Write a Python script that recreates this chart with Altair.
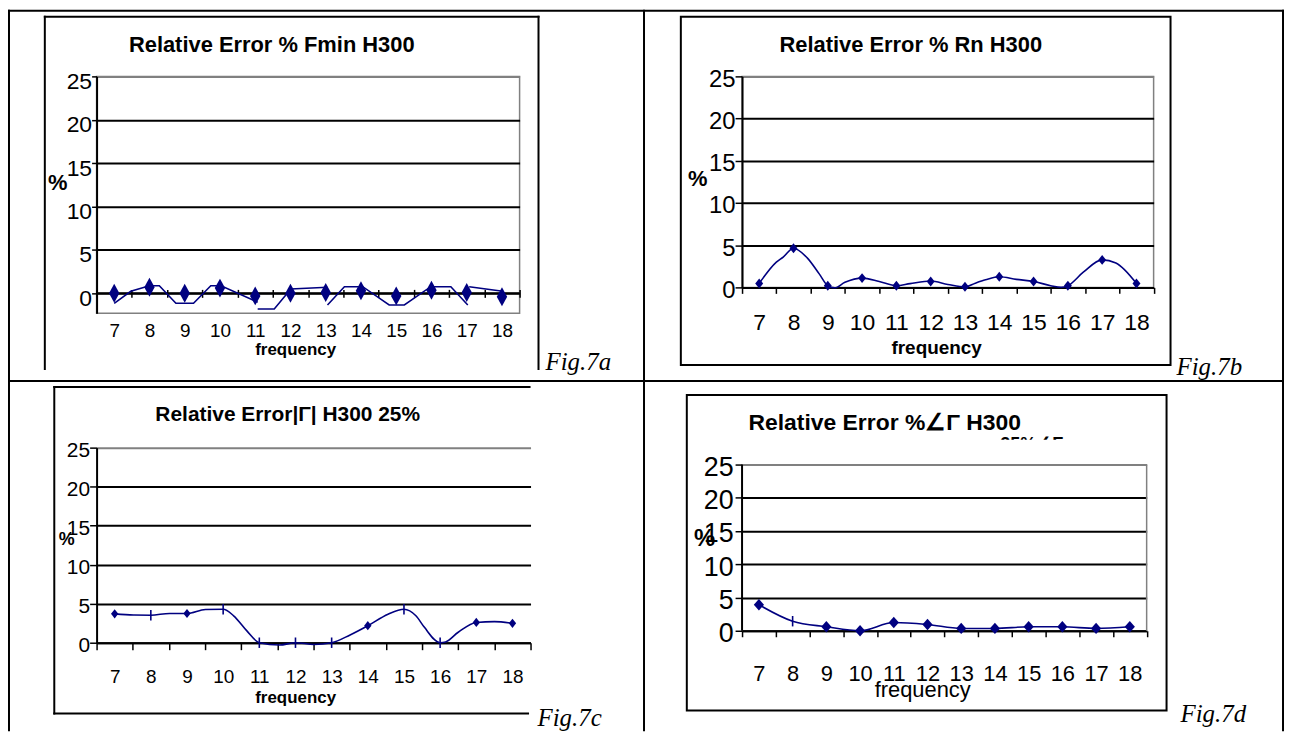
import altair as alt
import pandas as pd

SANS = "Liberation Sans"
SERIF = "Liberation Serif"
NAVY = "#000080"
GREY = "#808080"

FREQ = [7, 8, 9, 10, 11, 12, 13, 14, 15, 16, 17, 18]
HALF = [6.5, 7.5, 8.5, 9.5, 10.5, 11.5, 12.5, 13.5, 14.5, 15.5, 16.5, 17.5, 18.5]
Y_TICKS = [0, 5, 10, 15, 20, 25]

# ---- Fig.7a  Relative Error % Fmin H300
A_MARK = [0.0, 0.7, 0.0, 0.6, -0.3, 0.0, 0.1, 0.3, -0.3, 0.35, 0.1, -0.4]
A_LINE_X = [7.0, 7.47, 8.0, 8.28, 8.75, 9.25, 9.74, 10.03, 11.07,
            11.07, 11.54, 12.01, 13.05,
            13.05, 13.53, 14.05, 14.8, 15.23, 15.98, 16.55, 17.03,
            17.07, 18.02]
A_LINE_Y = [-1.15, 0.23, 0.88, 0.88, -1.15, -1.15, 0.88, 0.88, -1.03,
            -1.8, -1.8, 0.5, 0.69,
            -1.34, 0.76, 0.76, -1.34, -1.34, 0.76, 0.76, -1.34,
            0.76, 0.23]
A_LINE_SEG = [1, 1, 1, 1, 1, 1, 1, 1, 1,
              2, 2, 2, 2,
              3, 3, 3, 3, 3, 3, 3, 3,
              4, 4]

# ---- Fig.7b  Relative Error % Rn H300
B_MARK = [0.47, 4.64, 0.2, 1.1, 0.2, 0.7, 0.08, 1.26, 0.7, 0.2, 3.26, 0.47]
B_LINE_X = [7, 7.5, 7.7, 8, 8.4, 8.75, 9, 9.2, 9.5, 10, 10.5, 11, 11.4, 12,
            12.5, 13, 13.3, 13.6, 14, 14.5, 15, 15.5, 15.8, 16, 16.45, 17,
            17.4, 18]
B_LINE_Y = [0.47, 3.0, 3.6, 4.64, 3.5, 1.6, 0.2, -0.05, 0.6, 1.1, 0.7, 0.2,
            0.45, 0.75, 0.35, 0.05, 0.5, 0.9, 1.26, 0.95, 0.7, 0.2, 0.0, 0.2,
            1.8, 3.26, 2.9, 0.47]

# ---- Fig.7c  Relative Error |Γ| H300 25%
C_MARK = [3.7, 3.53, 3.74, 4.29, 0.0, 0.0, 0.0, 2.18, 4.29, 0.0, 2.6, 2.48]
C_KIND = ["diamond", "bar", "diamond", "bar", "bar", "bar", "bar",
          "diamond", "bar", "bar", "diamond", "diamond"]
C_LINE_X = [7, 7.52, 8, 8.52, 9, 9.51, 10, 10.29, 10.65, 11, 11.56, 12,
            12.51, 13, 13.51, 14, 14.56, 15, 15.33, 15.56, 16, 16.15, 16.5,
            17, 17.5, 18]
C_LINE_Y = [3.7, 3.55, 3.53, 3.75, 3.74, 4.25, 4.29, 3.45, 1.55, 0.0, -0.3,
            0.0, -0.22, 0.0, 1.0, 2.18, 3.66, 4.29, 3.45, 2.0, 0.0, 0.1, 1.34,
            2.6, 2.7, 2.48]

# ---- Fig.7d  Relative Error % ∠Γ H300
D_MARK = [3.92, 1.44, 0.6, 0.0, 1.24, 0.94, 0.35, 0.35, 0.6, 0.6, 0.35, 0.6]
D_KIND = ["diamond", "bar", "diamond", "diamond", "diamond", "diamond",
          "diamond", "diamond", "diamond", "diamond", "diamond", "diamond"]

ONE = pd.DataFrame({"k": [0]})


def deco_rect(x, x2, y, y2, color="black"):
    return alt.Chart(ONE).mark_rect(color=color).encode(
        x=alt.value(x), x2=alt.value(x2), y=alt.value(y), y2=alt.value(y2))


def deco_box(x, x2, y, y2):
    return alt.Chart(ONE).mark_rect(fillOpacity=0, stroke="black", strokeWidth=2).encode(
        x=alt.value(x), x2=alt.value(x2), y=alt.value(y), y2=alt.value(y2))


def deco_text(t, x, y, size, bold=False, font=SANS, italic=False,
              align="center", baseline="middle"):
    kw = dict(text=t, font=font, fontSize=size, color="black",
              align=align, baseline=baseline)
    if bold:
        kw["fontWeight"] = "bold"
    if italic:
        kw["fontStyle"] = "italic"
    return alt.Chart(ONE).mark_text(**kw).encode(x=alt.value(x), y=alt.value(y))


def panel(cfg, line_df, mk_df, decos, interp, extra=None):
    xs = alt.Scale(domain=[6.5, 18.5], nice=False, zero=False)
    ys = alt.Scale(domain=cfg["ydom"], nice=False, zero=False)
    yaxis = alt.Axis(
        orient="left", values=Y_TICKS, title=None, grid=True,
        gridColor={"condition": {"test": "datum.value >= 25", "value": GREY},
                   "value": "black"},
        gridWidth=2, domain=cfg["ydomain"], domainColor="black", domainWidth=2,
        ticks=True, tickColor="black", tickWidth=1.5, tickSize=cfg["ytick"],
        labelFont=SANS, labelFontSize=cfg["ylab"], labelColor="black",
        labelPadding=cfg["ypad"], labelOffset=cfg["yoff"])
    xlab = alt.Axis(
        orient="bottom", values=FREQ, title=None, grid=False, domain=False,
        ticks=False, labelFont=SANS, labelFontSize=cfg["xlab"],
        labelColor="black", labelPadding=cfg["xpad"], labelFlush=False,
        labelOverlap=False)
    xtick = alt.Axis(
        orient="bottom", values=HALF, title=None, grid=False, labels=False,
        ticks=True, tickColor="black", tickWidth=1.5, tickSize=cfg["xtick"],
        domain=cfg["xdomain"], domainColor="black", domainWidth=2,
        offset=cfg["xoff"])

    line = alt.Chart(line_df).mark_line(
        color=NAVY, strokeWidth=1.6, interpolate=interp).encode(
        x=alt.X("x:Q", scale=xs, axis=xlab),
        y=alt.Y("y:Q", scale=ys, axis=yaxis),
        detail="seg:N")
    dia = alt.Chart(mk_df).transform_filter("datum.kind == 'diamond'").mark_point(
        shape=cfg["dpath"], size=cfg["dsize"], filled=True, color=NAVY,
        opacity=1).encode(
        x=alt.X("x:Q", scale=xs, axis=xtick),
        y=alt.Y("y:Q", scale=ys, axis=None))
    bar = alt.Chart(mk_df).transform_filter("datum.kind == 'bar'").mark_point(
        shape="M0,-1L0,1", size=110, filled=False, color=NAVY, strokeWidth=1.6,
        opacity=1).encode(
        x=alt.X("x:Q", scale=xs, axis=None),
        y=alt.Y("y:Q", scale=ys, axis=None))
    layers = list(decos)
    if extra:
        layers += extra(xs, ys)
    layers += [line, dia, bar]
    ch = alt.layer(*layers).resolve_axis(x="independent", y="independent")
    props = dict(width=cfg["w"], height=cfg["h"])
    if cfg.get("stroke"):
        props["view"] = alt.ViewBackground(stroke=GREY, strokeWidth=1.5)
    return ch.properties(**props)


def mk(vals, kinds=None):
    return pd.DataFrame({"x": FREQ, "y": vals,
                         "kind": kinds if kinds else ["diamond"] * len(FREQ)})


def ln(xv, yv, seg=None):
    return pd.DataFrame({"x": xv, "y": yv, "seg": seg if seg else [0] * len(xv)})


# ---------------- Panel A (view origin at page 97,75)
cfgA = dict(w=425, h=238, ydom=[-2.3, 25], ydomain=True, ytick=5, ylab=23,
            ypad=0, yoff=5, xlab=19, xpad=8.5, xtick=8, xdomain=False, xoff=-24,
            dpath="M0,-1L0.55,0L0,1L-0.55,0Z", dsize=361, stroke=True)
decoA = [
    deco_rect(-89, 1193, -67, -65), deco_rect(-89, -87, -67, 307),
    deco_rect(549, 551, -67, 307), deco_rect(1191, 1193, -67, 307),
    deco_rect(-89, 1193, 305, 307),
    deco_rect(-53, 445, -61, -59), deco_rect(-53, -51, -61, 295),
    deco_rect(443, 445, -61, 295),
    deco_text("Relative Error % Fmin H300", 176, -32, 22, bold=True),
    deco_text("%", -39, 107, 22, bold=True),
    deco_text("frequency", 200, 275, 17, bold=True),
    deco_text("Fig.7a", 451, 287, 25, font=SERIF, italic=True, align="left"),
]


def zero_rule(xs, ys):
    return [alt.Chart(ONE).mark_rule(color="black", strokeWidth=2).encode(
        y=alt.YDatum(0, scale=ys, axis=None))]


pA = panel(cfgA, ln(A_LINE_X, A_LINE_Y, A_LINE_SEG), mk(A_MARK), decoA,
           "linear", extra=zero_rule)

# ---------------- Panel B (origin 745.5,75)
cfgB = dict(w=413.5, h=212, ydom=[0, 25], ydomain=True, ytick=7, ylab=24,
            ypad=0, yoff=3, xlab=23, xpad=24, xtick=6, xdomain=True, xoff=0,
            dpath="M0,-1L0.8,0L0,1L-0.8,0Z", dsize=100, stroke=True)
decoB = [
    deco_box(-61.5, 430.5, -60, 290),
    deco_text("Relative Error % Rn H300", 169.5, -31, 22, bold=True),
    deco_text("%", -44.5, 103, 22, bold=True),
    deco_text("frequency", 195.5, 273, 19, bold=True),
    deco_text("Fig.7b", 436.5, 292, 25, font=SERIF, italic=True, align="left"),
]
pB = panel(cfgB, ln(B_LINE_X, B_LINE_Y), mk(B_MARK), decoB, "monotone")

# ---------------- Panel C (origin 97,448)
cfgC = dict(w=436, h=196, ydom=[0, 25], ydomain=True, ytick=7, ylab=21,
            ypad=0, yoff=3, xlab=19, xpad=24.5, xtick=7, xdomain=True, xoff=0,
            dpath="M0,-1L0.8,0L0,1L-0.8,0Z", dsize=85, stroke=False)
decoC = [
    deco_rect(-89, -87, -68, 285), deco_rect(549, 551, -68, 285),
    deco_rect(1191, 1193, -68, 285),
    deco_rect(-43.5, 436, -62, -60), deco_rect(-43.5, -41.5, -62, 268),
    deco_rect(-43.5, 434.5, 266, 268),
    deco_text("Relative Error|Γ| H300 25%", 192, -33, 21, bold=True),
    deco_text("%", -30, 93, 18, bold=True),
    deco_text("frequency", 200, 252, 17, bold=True),
    deco_text("Fig.7c", 443, 272, 25, font=SERIF, italic=True, align="left"),
]
pC = panel(cfgC, ln(C_LINE_X, C_LINE_Y), mk(C_MARK, C_KIND), decoC, "monotone")

# ---------------- Panel D (origin 745.5,448)
cfgD = dict(w=406.5, h=184, ydom=[0, 27.545], ydomain=False, ytick=7, ylab=27,
            ypad=2, yoff=3, xlab=22, xpad=33, xtick=6, xdomain=True, xoff=0,
            dpath="M0,-1L0.9,0L0,1L-0.9,0Z", dsize=130, stroke=False)
decoD = [
    deco_box(-55.5, 426.5, -53, 264),
    deco_text("Relative Error %∠Γ H300", 6.5, -25, 23, bold=True, align="left"),
    deco_text("25%∠Γ", 259.5, -12, 18, bold=True, align="left", baseline="top"),
    deco_rect(250, 330, -8, 14, color="white"),
    deco_text("%", -37.5, 92, 24, bold=True),
    deco_text("frequency", 181.5, 244, 22),
    deco_text("Fig.7d", 440.5, 268, 25, font=SERIF, italic=True, align="left"),
]


def d_frame(xs, ys):
    return [
        alt.Chart(ONE).mark_rule(color="black", strokeWidth=2).encode(
            x=alt.XDatum(6.5, scale=xs, axis=None),
            y=alt.YDatum(0, scale=ys, axis=None), y2=alt.Y2Datum(25)),
        alt.Chart(ONE).mark_rule(color=GREY, strokeWidth=1.5).encode(
            x=alt.XDatum(18.5, scale=xs, axis=None),
            y=alt.YDatum(0, scale=ys, axis=None), y2=alt.Y2Datum(25)),
    ]


pD = panel(cfgD, ln(FREQ, D_MARK), mk(D_MARK, D_KIND), decoD, "monotone",
           extra=d_frame)

chart = alt.concat(
    pA, pB, pC, pD, columns=2,
    spacing={"row": 135, "column": 212.5}, align="each", bounds="flush"
).properties(
    autosize=alt.AutoSizeParams(type="none"),
    padding={"left": 89, "top": 67, "right": 1193, "bottom": 658},
    background="white",
).configure_view(stroke="transparent")

chart.save("out.html", embed_options={"renderer": "svg", "actions": False})
